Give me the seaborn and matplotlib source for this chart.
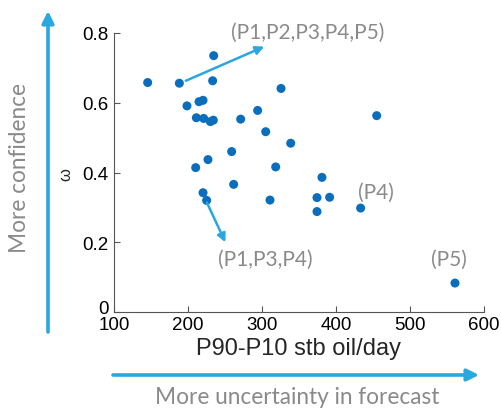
import matplotlib
matplotlib.use("Agg")
import matplotlib.pyplot as plt
import matplotlib.transforms as mtransforms
import seaborn as sns
import pandas as pd

# P90-P10 spread (stb oil/day) and omega weight for each well
spread = [145.5, 188.3, 234.7, 233.3, 325.7, 198.6, 214.9, 220.3, 211.3, 221.2,
          230.2, 234.2, 271.2, 294.1, 305.0, 338.8, 455.0, 259.0, 227.0, 210.4,
          318.5, 261.7, 220.3, 225.2, 310.8, 381.0, 374.3, 391.4, 374.3, 433.3,
          560.8]
omega = [0.658, 0.656, 0.735, 0.663, 0.641, 0.591, 0.603, 0.607, 0.557, 0.555,
         0.546, 0.550, 0.553, 0.578, 0.517, 0.484, 0.563, 0.460, 0.437, 0.414,
         0.416, 0.366, 0.342, 0.320, 0.321, 0.386, 0.328, 0.329, 0.288, 0.298,
         0.083]

x_ticks = [100, 200, 300, 400, 500, 600]
y_ticks = [0, 0.2, 0.4, 0.6, 0.8]
y_tick_labels = ["0", "0.2", "0.4", "0.6", "0.8"]

DOT = "#0a6ebd"
ARROW = "#2aa7df"
GREY = "#8a8a8a"

sns.set_style("ticks")
plt.rcParams["font.family"] = ["Liberation Sans", "DejaVu Sans"]

fig = plt.figure(figsize=(5.02, 4.10), dpi=100)
ax = fig.add_axes([114 / 502, 1 - 313 / 410, 370 / 502, 279 / 410])

df = pd.DataFrame({"spread": spread, "omega": omega})
sns.scatterplot(data=df, x="spread", y="omega", ax=ax, color=DOT, s=42,
                edgecolor="none", linewidth=0)

ax.set_xlim(100, 600)
ax.set_ylim(0, 0.8)
ax.set_xticks(x_ticks)
ax.set_xticklabels([str(t) for t in x_ticks])
ax.set_yticks(y_ticks)
ax.set_yticklabels(y_tick_labels)
ax.tick_params(direction="in", length=4, width=0.8, labelsize=13.5,
               colors="#555555", labelcolor="black")
ax.tick_params(axis="x", pad=3)
ax.tick_params(axis="y", pad=4)
for side in ("top", "right"):
    ax.spines[side].set_visible(False)
for side in ("left", "bottom"):
    ax.spines[side].set_color("#555555")
    ax.spines[side].set_linewidth(0.8)

# lift the "0" label a little so it clears the "100" below it
zero_label = ax.get_yticklabels()[0]
zero_label.set_transform(zero_label.get_transform() +
                         mtransforms.ScaledTranslation(0, 4 / 72, fig.dpi_scale_trans))

ax.set_xlabel("P90-P10 stb oil/day", fontsize=17)
ax.xaxis.set_label_coords(0.5, -0.088)
ax.set_ylabel("ω", fontsize=12)
ax.yaxis.set_label_coords(-0.13, 0.495)
ax.yaxis.label.set_va("center")
ax.xaxis.label.set_va("top")

# Group annotations
note_font = dict(color=GREY, fontsize=15, family=["Lato", "DejaVu Sans"],
                 ha="center", va="center")
arrow_kw = dict(arrowstyle="-|>,head_length=0.5,head_width=0.25",
                color=ARROW, lw=1.8, shrinkA=0, shrinkB=0)
ax.annotate("", xy=(303, 0.761), xytext=(197, 0.663), arrowprops=arrow_kw)
ax.annotate("", xy=(250.5, 0.200), xytext=(225.5, 0.314), arrowprops=arrow_kw)
ax.text(362, 0.802, "(P1,P2,P3,P4,P5)", clip_on=False, **note_font)
ax.text(304, 0.153, "(P1,P3,P4)", **note_font)
ax.text(454, 0.344, "(P4)", **note_font)
ax.text(552, 0.153, "(P5)", **note_font)

# Direction arrows outside the axes
big_arrow = dict(arrowstyle="-|>,head_length=0.7,head_width=0.35",
                 color=ARROW, lw=2.6, shrinkA=0, shrinkB=0)
ax.annotate("", xy=(48, 398), xytext=(48, 77), xycoords="figure pixels",
            textcoords="figure pixels", arrowprops=big_arrow,
            annotation_clip=False)
ax.annotate("", xy=(479, 34), xytext=(113, 34), xycoords="figure pixels",
            textcoords="figure pixels", arrowprops=big_arrow,
            annotation_clip=False)

side_font = dict(color=GREY, fontsize=16.3, family=["Lato", "DejaVu Sans"])
fig.text(20 / 502, 1 - 168 / 410, "More confidence", rotation=90,
         ha="center", va="center", **side_font)
fig.text(297 / 502, 1 - 398 / 410, "More uncertainty in forecast",
         ha="center", va="center", **side_font)

fig.savefig("out.png", dpi=100)
